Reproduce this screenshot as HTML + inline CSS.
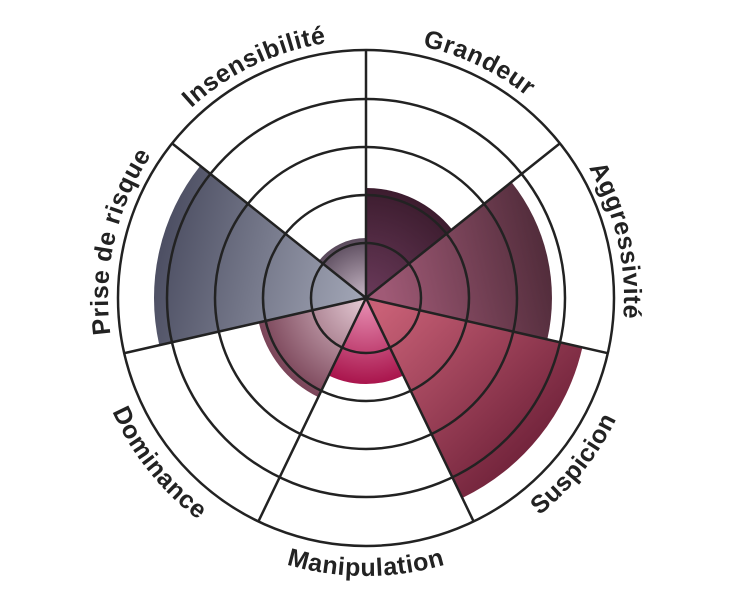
<!DOCTYPE html>
<html><head><meta charset="utf-8"><style>html,body{margin:0;padding:0;background:#fff}svg{display:block}</style></head>
<body>
<svg width="732" height="600" viewBox="0 0 732 600" xmlns="http://www.w3.org/2000/svg">
<defs>
<radialGradient id="gG" gradientUnits="userSpaceOnUse" cx="366" cy="298" r="110"><stop offset="0" stop-color="#6a3a5a"/><stop offset="1" stop-color="#3c1c2e"/></radialGradient>
<linearGradient id="gA" gradientUnits="userSpaceOnUse" x1="380" y1="280" x2="552" y2="240"><stop offset="0" stop-color="#a05a76"/><stop offset="1" stop-color="#4e2a38"/></linearGradient>
<linearGradient id="gS" gradientUnits="userSpaceOnUse" x1="380" y1="310" x2="540" y2="470"><stop offset="0" stop-color="#c86076"/><stop offset="1" stop-color="#6a1e36"/></linearGradient>
<radialGradient id="gM" gradientUnits="userSpaceOnUse" cx="366" cy="300" r="86"><stop offset="0" stop-color="#e890b4"/><stop offset="1" stop-color="#a8124a"/></radialGradient>
<radialGradient id="gD" gradientUnits="userSpaceOnUse" cx="366" cy="298" r="110"><stop offset="0" stop-color="#e6ccd6"/><stop offset="1" stop-color="#7a4458"/></radialGradient>
<linearGradient id="gP" gradientUnits="userSpaceOnUse" x1="360" y1="290" x2="155" y2="240"><stop offset="0" stop-color="#a0a4b4"/><stop offset="1" stop-color="#4a4c60"/></linearGradient>
<radialGradient id="gI" gradientUnits="userSpaceOnUse" cx="366" cy="298" r="60"><stop offset="0" stop-color="#c8b8c6"/><stop offset="1" stop-color="#5a4a5c"/></radialGradient>
<path id="topArc" d="M 366,40 A 258 258 0 1 1 366,556 A 258 258 0 1 1 366,40"/>
<path id="botArc" d="M 366,20 A 278 278 0 1 0 366,576 A 278 278 0 1 0 366,20"/>
</defs>
<path d="M366,298 L366,188 A110 110 0 0 1 452,229.4 Z" fill="url(#gG)"/>
<path d="M366,298 L511.4,182 A186 186 0 0 1 547.3,339.4 Z" fill="url(#gA)"/>
<path d="M366,298 L582.4,347.4 A222 222 0 0 1 462.3,498 Z" fill="url(#gS)"/>
<path d="M366,298 L403.3,375.5 A86 86 0 0 1 328.7,375.5 Z" fill="url(#gM)"/>
<path d="M366,298 L318.3,397.1 A110 110 0 0 1 258.8,322.5 Z" fill="url(#gD)"/>
<path d="M366,298 L159.3,345.2 A212 212 0 0 1 200.3,165.8 Z" fill="url(#gP)"/>
<path d="M366,298 L319.1,260.6 A60 60 0 0 1 366,238 Z" fill="url(#gI)"/>
<g fill="none" stroke="#222" stroke-width="2.5">
<circle cx="366" cy="298" r="55"/><circle cx="366" cy="298" r="103"/><circle cx="366" cy="298" r="151"/><circle cx="366" cy="298" r="199"/><circle cx="366" cy="298" r="248"/>
<path d="M366,298 L366,50 M366,298 L559.9,143.4 M366,298 L607.8,353.2 M366,298 L473.6,521.4 M366,298 L258.4,521.4 M366,298 L124.2,353.2 M366,298 L172.1,143.4"/>
</g>
<g font-family="Liberation Sans, sans-serif" font-weight="bold" font-size="25" letter-spacing="0.6" fill="#222" text-anchor="middle">
<text><textPath href="#topArc" startOffset="7.14%">Grandeur</textPath></text>
<text><textPath href="#topArc" startOffset="21.43%">Aggressivité</textPath></text>
<text><textPath href="#topArc" startOffset="78.57%">Prise de risque</textPath></text>
<text><textPath href="#topArc" startOffset="92.86%">Insensibilité</textPath></text>
<text><textPath href="#botArc" startOffset="64.29%">Suspicion</textPath></text>
<text><textPath href="#botArc" startOffset="50%">Manipulation</textPath></text>
<text><textPath href="#botArc" startOffset="35.71%">Dominance</textPath></text>
</g>
</svg>
</body></html>
